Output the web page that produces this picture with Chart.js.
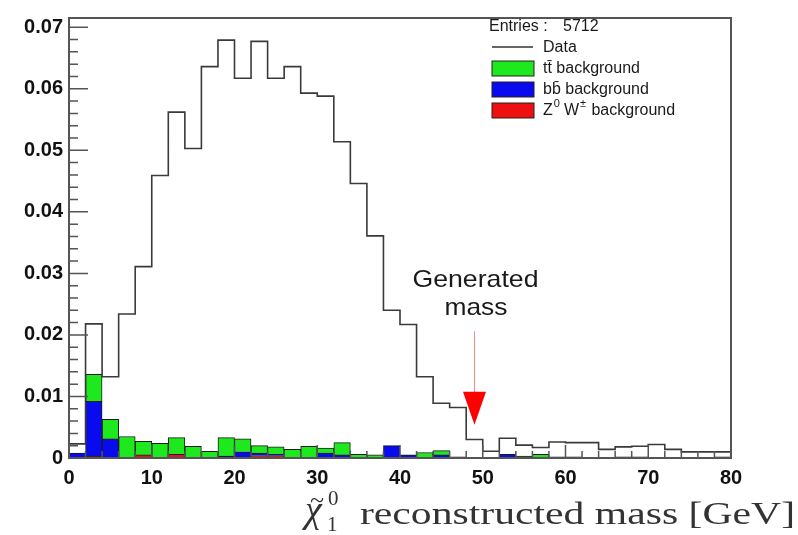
<!DOCTYPE html>
<html lang="en">
<head>
<meta charset="UTF-8" />
<title>Neutralino reconstructed mass</title>
<script src="https://cdn.jsdelivr.net/npm/chart.js"></script>
<style>
  * { margin: 0; padding: 0; box-sizing: border-box; }
  body { background: #fff; }
  #wrap { width: 798px; height: 535px; }
</style>
</head>
<body>
<div id="wrap"><canvas id="massChart" width="798" height="535"></canvas></div>
<script>
// bin centres, 2 GeV wide bins from 0 to 80
const BIN_CENTERS = [1, 3, 5, 7, 9, 11, 13, 15, 17, 19, 21, 23, 25, 27, 29, 31, 33, 35, 37, 39,
  41, 43, 45, 47, 49, 51, 53, 55, 57, 59, 61, 63, 65, 67, 69, 71, 73, 75, 77, 79];
const BIN_WIDTH = 2;

// normalised data (black step line)
const DATA = [0.0023, 0.0218, 0.0132, 0.0234, 0.0311, 0.0459, 0.0562, 0.0503, 0.0636, 0.0679,
  0.0617, 0.0677, 0.0617, 0.0636, 0.0593, 0.0588, 0.0514, 0.0446, 0.0361, 0.0240,
  0.0217, 0.0132, 0.0089, 0.0082, 0.0030, 0.0011, 0.0032, 0.0021, 0.0017, 0.0026,
  0.0025, 0.0025, 0.0014, 0.0018, 0.0019, 0.0022, 0.0014, 0.0010, 0.0010, 0.0010];

// stacked backgrounds (each array is that component's own height)
const ZW_BG = [0, 0.0003, 0, 0, 0.0005, 0, 0.0006, 0, 0, 0,
  0, 0.0004, 0.0004, 0, 0, 0, 0, 0, 0, 0,
  0, 0, 0, 0, 0, 0, 0, 0, 0, 0,
  0, 0, 0, 0, 0, 0, 0, 0, 0, 0];
const BB_BG = [0.0008, 0.0089, 0.0031, 0, 0, 0, 0, 0, 0, 0.0003,
  0.0010, 0.0004, 0.0002, 0, 0, 0.0008, 0.0005, 0, 0, 0.0020,
  0.0005, 0, 0.0005, 0, 0, 0, 0.0006, 0, 0, 0.0002,
  0, 0, 0, 0.0002, 0, 0, 0, 0, 0, 0.0002];
const TT_BG = [0, 0.0044, 0.0032, 0.0035, 0.0022, 0.0024, 0.0027, 0.0019, 0.0011, 0.0030,
  0.0021, 0.0012, 0.0012, 0.0014, 0.0019, 0.0008, 0.0020, 0.0006, 0.0005, 0,
  0, 0.0009, 0.0007, 0.0002, 0, 0, 0, 0.0003, 0.0006, 0,
  0.0002, 0.0001, 0, 0, 0.0002, 0.0001, 0, 0, 0, 0];

const X_TICKS = [0, 10, 20, 30, 40, 50, 60, 70, 80];
const Y_TICKS = [0, 0.01, 0.02, 0.03, 0.04, 0.05, 0.06, 0.07];
const ENTRIES = 5712;

// generated mass arrow
const ARROW_X = 49;
const ARROW_FROM = 0.0206;
const ARROW_TO = 0.0054;

const GREEN = '#1ee81e';
const BLUE = '#0a0aee';
const RED = '#ee1010';

Chart.defaults.font.family = "'Liberation Sans', Arial, sans-serif";

function toBars(values) {
  return BIN_CENTERS.map((x, i) => ({ x: x, y: values[i] }));
}

// step line: each left edge carries that bin's value, closed at the last edge
const dataSteps = BIN_CENTERS.map((x, i) => ({ x: x - BIN_WIDTH / 2, y: DATA[i] }));
dataSteps.push({ x: BIN_CENTERS[BIN_CENTERS.length - 1] + BIN_WIDTH / 2, y: 0 });

function fitText(ctx, text, x, y, width) {
  const w = ctx.measureText(text).width;
  ctx.save();
  ctx.translate(x, y);
  ctx.scale(width / w, 1);
  ctx.fillText(text, 0, 0);
  ctx.restore();
}

const rootStyle = {
  id: 'rootStyle',
  afterDatasetsDraw(chart) {
    const ctx = chart.ctx;
    const a = chart.chartArea;
    const xs = chart.scales.x;
    const ys = chart.scales.y;

    ctx.save();
    // inward ticks
    ctx.strokeStyle = '#555';
    ctx.lineWidth = 1.5;
    ctx.beginPath();
    for (let k = 0; k <= 40; k++) {
      const px = xs.getPixelForValue(k * 2);
      const len = k % 5 === 0 ? 13 : 7;
      ctx.moveTo(px, a.bottom);
      ctx.lineTo(px, a.bottom - len);
    }
    for (let k = 0; k <= 35; k++) {
      const py = ys.getPixelForValue(k * 0.002);
      const len = k % 5 === 0 ? 19 : 9;
      ctx.moveTo(a.left, py);
      ctx.lineTo(a.left + len, py);
    }
    ctx.stroke();

    // frame
    ctx.lineWidth = 2;
    ctx.strokeRect(a.left, a.top, a.right - a.left, a.bottom - a.top);

    // arrow for generated mass
    const ax = xs.getPixelForValue(ARROW_X);
    const yFrom = ys.getPixelForValue(ARROW_FROM);
    const yTo = ys.getPixelForValue(ARROW_TO);
    ctx.strokeStyle = '#f08a8a';
    ctx.lineWidth = 1;
    ctx.beginPath();
    ctx.moveTo(ax, yFrom);
    ctx.lineTo(ax, yTo - 30);
    ctx.stroke();
    ctx.fillStyle = '#ff0000';
    ctx.beginPath();
    ctx.moveTo(ax - 11.5, yTo - 33);
    ctx.lineTo(ax + 11.5, yTo - 33);
    ctx.lineTo(ax, yTo);
    ctx.closePath();
    ctx.fill();

    ctx.fillStyle = '#1a1a1a';
    ctx.font = "24px 'Liberation Sans', Arial, sans-serif";
    ctx.textBaseline = 'alphabetic';
    ctx.textAlign = 'left';
    fitText(ctx, 'Generated', ax - 62, yFrom - 44, 126);
    fitText(ctx, 'mass', ax - 30, yFrom - 16, 63);
    ctx.restore();
  },
  afterDraw(chart) {
    const ctx = chart.ctx;
    ctx.save();
    ctx.textAlign = 'left';
    ctx.fillStyle = '#1a1a1a';

    // legend
    const font = "16px 'Liberation Sans', Arial, sans-serif";
    ctx.font = font;
    ctx.textBaseline = 'alphabetic';
    ctx.fillText('Entries :', 489, 31);
    ctx.fillText(String(ENTRIES), 563, 31);

    ctx.textBaseline = 'middle';
    ctx.strokeStyle = '#333';
    ctx.lineWidth = 1.5;
    ctx.beginPath();
    ctx.moveTo(492, 47);
    ctx.lineTo(533, 47);
    ctx.stroke();
    ctx.fillText('Data', 543, 48);

    const boxes = [[GREEN, 61], [BLUE, 82], [RED, 103]];
    ctx.lineWidth = 1;
    ctx.strokeStyle = '#222';
    boxes.forEach(([c, y]) => {
      ctx.fillStyle = c;
      ctx.fillRect(492, y, 42, 15);
      ctx.strokeRect(492, y, 42, 15);
    });
    ctx.fillStyle = '#1a1a1a';
    ctx.fillText('tt\u0304 background', 543, 69);
    ctx.fillText('bb\u0304 background', 543, 90);

    let x = 543;
    const yz = 111;
    ctx.fillText('Z', x, yz);
    x += ctx.measureText('Z').width + 1;
    ctx.font = "11px 'Liberation Sans', Arial, sans-serif";
    ctx.fillText('0', x, yz - 7);
    x += ctx.measureText('0').width + 4;
    ctx.font = font;
    ctx.fillText('W', x, yz);
    x += ctx.measureText('W').width + 1;
    ctx.font = "11px 'Liberation Sans', Arial, sans-serif";
    ctx.fillText('\u00b1', x, yz - 7);
    x += ctx.measureText('\u00b1').width + 1;
    ctx.font = font;
    ctx.fillText(' background', x, yz);

    // x axis title, LaTeX-like serif
    ctx.fillStyle = '#333';
    ctx.textBaseline = 'alphabetic';
    ctx.font = "italic 38px 'Liberation Serif', 'DejaVu Serif', serif";
    ctx.fillText('\u03c7', 305, 522);
    ctx.font = "26px 'Liberation Serif', 'DejaVu Serif', serif";
    ctx.fillText('~', 310, 508);
    ctx.font = "21px 'Liberation Serif', 'DejaVu Serif', serif";
    ctx.fillText('0', 328, 505);
    ctx.fillText('1', 327, 531);
    ctx.font = "32px 'Liberation Serif', 'DejaVu Serif', serif";
    fitText(ctx, 'reconstructed mass [GeV]', 360, 524, 435);
    ctx.restore();
  }
};

const ctx = document.getElementById('massChart').getContext('2d');

new Chart(ctx, {
  type: 'bar',
  data: {
    datasets: [
      {
        type: 'line',
        label: 'Data',
        data: dataSteps,
        stepped: 'before',
        borderColor: '#3a3a3a',
        borderWidth: 1.6,
        pointRadius: 0,
        fill: false,
        stack: 'data',
        order: 0
      },
      {
        label: 'Z0 W background',
        data: toBars(ZW_BG),
        backgroundColor: RED,
        borderColor: '#1a1a1a',
        borderWidth: 1,
        stack: 'bg',
        order: 1
      },
      {
        label: 'bb background',
        data: toBars(BB_BG),
        backgroundColor: BLUE,
        borderColor: '#1a1a1a',
        borderWidth: 1,
        stack: 'bg',
        order: 1
      },
      {
        label: 'tt background',
        data: toBars(TT_BG),
        backgroundColor: GREEN,
        borderColor: '#1a1a1a',
        borderWidth: 1,
        stack: 'bg',
        order: 1
      }
    ]
  },
  options: {
    responsive: false,
    animation: false,
    layout: { padding: { top: 9, right: 67, left: 0, bottom: 0 } },
    datasets: {
      bar: { categoryPercentage: 1, barPercentage: 1 }
    },
    plugins: {
      legend: { display: false },
      tooltip: { enabled: false }
    },
    scales: {
      x: {
        type: 'linear',
        min: 0,
        max: 80,
        offset: false,
        stacked: true,
        grid: { display: false, drawTicks: false },
        border: { display: false },
        afterBuildTicks: s => { s.ticks = X_TICKS.map(v => ({ value: v })); },
        afterFit: s => { s.height = 77; },
        ticks: {
          autoSkip: false,
          maxRotation: 0,
          padding: 8,
          color: '#111',
          font: { size: 20, weight: 'bold' }
        }
      },
      y: {
        min: 0,
        max: 0.0715,
        stacked: true,
        grid: { display: false, drawTicks: false },
        border: { display: false },
        afterBuildTicks: s => { s.ticks = Y_TICKS.map(v => ({ value: v })); },
        afterFit: s => { s.width = 69; },
        ticks: {
          padding: 6,
          color: '#111',
          font: { size: 20, weight: 'bold' },
          callback: v => (v === 0 ? '0' : v.toFixed(2))
        }
      }
    }
  },
  plugins: [rootStyle]
});
</script>
</body>
</html>
